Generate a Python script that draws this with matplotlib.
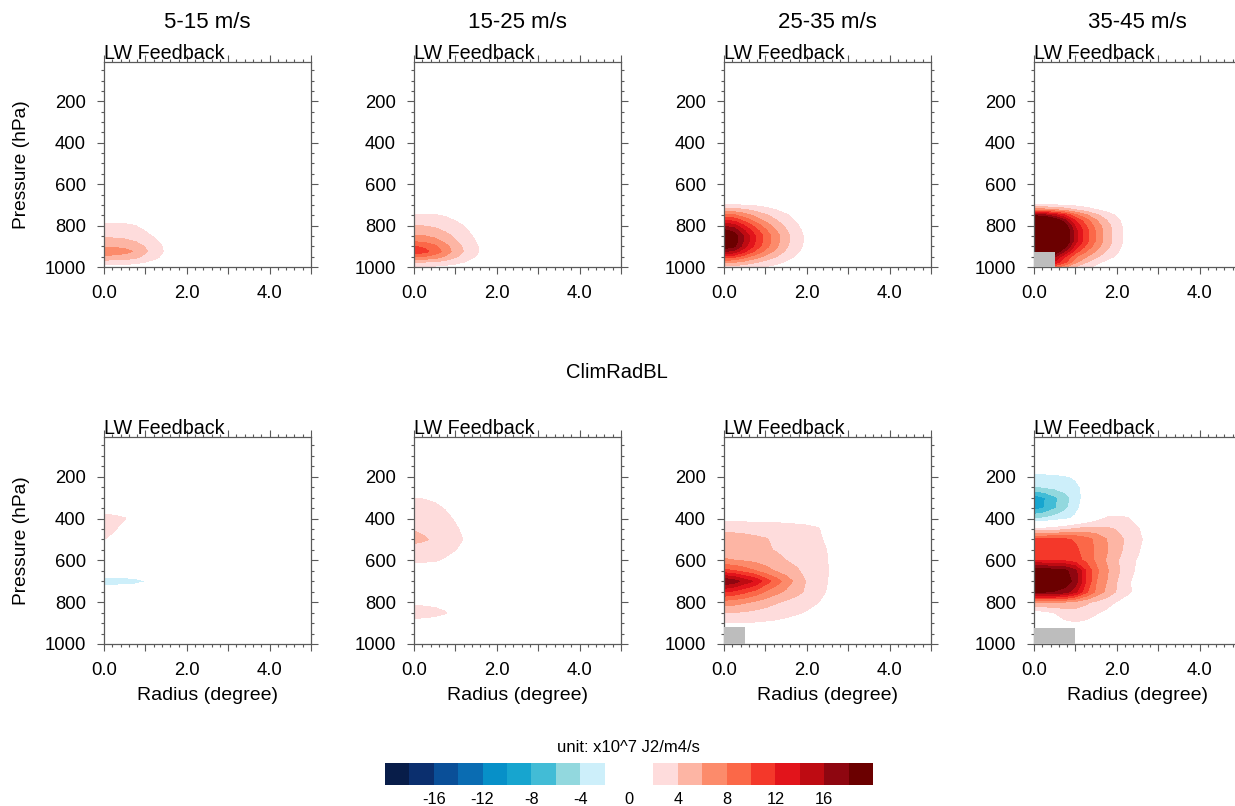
import numpy as np
import matplotlib
matplotlib.use("Agg")
import matplotlib.pyplot as plt
from matplotlib.colors import ListedColormap, BoundaryNorm
from matplotlib.cm import ScalarMappable
from matplotlib.ticker import FixedLocator, MultipleLocator, FuncFormatter

plt.rcParams['font.family'] = ['Liberation Sans', 'DejaVu Sans']
plt.rcParams['axes.unicode_minus'] = False

# ---------------- data ----------------
wind_bins = ['5-15 m/s', '15-25 m/s', '25-35 m/s', '35-45 m/s']
row_titles = ['', 'ClimRadBL']
panel_label = 'LW Feedback'
unit_label = 'unit: x10^7 J2/m4/s'

radius = [0.0, 0.25, 0.5, 0.75, 1.0, 1.25, 1.5, 1.75, 2.0, 2.25, 2.5, 2.75, 3.0]
pressure_top = [700, 725, 750, 775, 800, 825, 850, 875, 900, 925, 950, 975, 1000]
pressure_bottom = [150, 200, 250, 300, 350, 400, 450, 500, 550, 600, 650, 700,
                   750, 800, 850, 900, 950, 1000]

# rows follow the pressure list, columns follow the radius list (missing tail = 0)
top_v05_15 = [
    [0],
    [0],
    [0.5, 0.5, 0.4, 0.3, 0.2, 0],
    [1.5, 1.5, 1.4, 1.2, 0.8, 0.4, 0],
    [2.4, 2.4, 2.3, 2.0, 1.4, 0.8, 0.3, 0],
    [3.0, 3.0, 2.9, 2.6, 1.9, 1.3, 0.6, 0],
    [3.6, 3.6, 3.5, 3.1, 2.4, 1.7, 0.9, 0.2, 0],
    [4.6, 4.5, 4.3, 3.9, 3.0, 2.2, 1.2, 0.4, 0],
    [5.8, 5.7, 5.4, 4.9, 3.8, 2.7, 1.5, 0.5, 0],
    [7.0, 6.8, 6.5, 5.8, 4.2, 3.0, 1.6, 0.6, 0],
    [5.6, 5.5, 5.2, 4.6, 3.4, 2.4, 1.2, 0.4, 0],
    [3.0, 3.0, 2.9, 2.6, 2.0, 1.4, 0.7, 0.2, 0],
    [1.0, 1.0, 0.9, 0.8, 0.6, 0.4, 0.2, 0],
]
top_v15_25 = [
    [0],
    [1.0, 1.0, 0.9, 0.7, 0.5, 0.3, 0.1, 0],
    [2.2, 2.2, 2.1, 1.8, 1.3, 0.8, 0.4, 0],
    [3.0, 3.0, 2.9, 2.5, 1.9, 1.3, 0.7, 0.2, 0],
    [4.0, 3.9, 3.7, 3.2, 2.5, 1.8, 1.0, 0.4, 0],
    [4.8, 4.7, 4.4, 3.8, 3.0, 2.2, 1.3, 0.5, 0],
    [6.2, 6.0, 5.5, 4.6, 3.6, 2.6, 1.6, 0.7, 0],
    [7.6, 7.3, 6.6, 5.4, 4.1, 3.0, 1.9, 0.8, 0],
    [10.0, 9.5, 8.4, 6.6, 4.8, 3.4, 2.2, 1.0, 0],
    [11.2, 10.6, 9.2, 7.2, 5.1, 3.6, 2.3, 1.0, 0],
    [8.0, 7.7, 7.0, 5.7, 4.2, 3.0, 1.9, 0.8, 0],
    [4.0, 4.0, 3.8, 3.3, 2.6, 1.9, 1.1, 0.4, 0],
    [1.6, 1.6, 1.5, 1.3, 1.0, 0.7, 0.4, 0.1, 0],
]
top_v25_35 = [
    [1.9, 1.9, 1.8, 1.6, 1.3, 1.0, 0.6, 0.3, 0],
    [5.0, 4.8, 4.2, 3.4, 2.7, 2.0, 1.3, 0.7, 0.2, 0],
    [8.5, 8.1, 6.8, 5.4, 4.2, 3.2, 2.2, 1.3, 0.5, 0],
    [12.0, 11.3, 9.2, 7.2, 5.5, 4.1, 2.8, 1.7, 0.8, 0.1, 0],
    [15.5, 14.6, 11.8, 9.2, 7.0, 5.2, 3.5, 2.2, 1.1, 0.2, 0],
    [18.5, 17.3, 14.0, 10.9, 8.3, 6.1, 4.1, 2.6, 1.3, 0.3, 0],
    [20.5, 19.2, 15.4, 12.0, 9.2, 6.8, 4.5, 2.9, 1.5, 0.4, 0],
    [20.5, 19.2, 15.4, 12.0, 9.2, 6.8, 4.5, 2.9, 1.5, 0.4, 0],
    [19.5, 18.2, 14.6, 11.4, 8.7, 6.4, 4.2, 2.7, 1.4, 0.3, 0],
    [16.0, 15.0, 12.2, 9.5, 7.3, 5.4, 3.6, 2.3, 1.1, 0.2, 0],
    [11.0, 10.4, 8.6, 6.9, 5.3, 4.0, 2.7, 1.7, 0.8, 0.1, 0],
    [6.5, 6.2, 5.3, 4.3, 3.4, 2.6, 1.8, 1.1, 0.5, 0],
    [3.0, 2.9, 2.6, 2.2, 1.8, 1.4, 1.0, 0.6, 0.2, 0],
]
top_v35_45 = [
    [1.9, 1.9, 1.8, 1.6, 1.3, 1.0, 0.7, 0.4, 0.2, 0],
    [7.0, 6.8, 6.2, 5.2, 4.0, 3.0, 2.1, 1.4, 0.8, 0.3, 0],
    [17.0, 16.2, 14.4, 11.8, 8.5, 6.3, 4.4, 2.9, 1.7, 0.6, 0],
    [24.0, 22.6, 20.0, 16.3, 11.7, 8.7, 6.1, 4.0, 2.4, 0.9, 0],
    [28.0, 26.2, 23.3, 19.1, 13.6, 10.1, 7.1, 4.7, 2.8, 1.1, 0],
    [30.0, 28.0, 25.0, 20.5, 14.5, 10.8, 7.6, 5.0, 3.0, 1.2, 0],
    [30.0, 28.0, 25.0, 20.5, 14.5, 10.8, 7.6, 5.0, 3.0, 1.2, 0],
    [30.0, 28.0, 25.0, 20.5, 14.5, 10.8, 7.6, 5.0, 3.0, 1.2, 0],
    [28.0, 26.0, 23.0, 18.5, 13.0, 9.6, 6.8, 4.5, 2.7, 1.0, 0],
    [25.0, 23.0, 20.0, 15.5, 10.8, 8.0, 5.7, 3.8, 2.2, 0.8, 0],
    [20.0, 18.5, 16.0, 12.0, 8.2, 6.1, 4.3, 2.8, 1.6, 0.5, 0],
    [16.0, 15.0, 13.5, 10.5, 6.5, 4.2, 2.6, 1.5, 0.7, 0.2, 0],
    [10.0, 9.5, 8.5, 6.0, 3.8, 2.5, 1.5, 0.8, 0.3, 0],
]

bot_v05_15 = [
    [0], [0], [0], [0],
    [0.5, 0.5, 0.4, 0.2, 0],
    [3.0, 2.6, 2.1, 0.8, 0],
    [2.6, 2.2, 0.8, 0.2, 0],
    [2.0, 1.2, 0.3, 0],
    [0.8, 0.3, 0],
    [0], [0],
    [-3.4, -3.3, -3.1, -2.8, -2.15, -0.5, 0],
    [0], [0], [0], [0], [0], [0],
]
bot_v15_25 = [
    [0], [0], [0],
    [1.95, 1.9, 1.7, 1.2, 0.5, 0],
    [2.6, 2.5, 2.3, 1.9, 1.2, 0],
    [3.0, 2.9, 2.7, 2.4, 1.8, 1.0, 0],
    [3.85, 3.6, 3.2, 2.7, 2.2, 1.5, 0],
    [4.6, 4.2, 3.6, 3.0, 2.5, 1.8, 0],
    [3.0, 2.9, 2.7, 2.4, 2.0, 1.4, 0],
    [2.3, 2.2, 2.1, 1.8, 1.0, 0],
    [1.0, 0.9, 0.8, 0.5, 0],
    [0], [0],
    [1.7, 1.6, 1.5, 1.2, 0.6, 0],
    [2.7, 2.6, 2.45, 2.1, 1.3, 0],
    [1.4, 1.3, 1.2, 1.0, 0.5, 0],
    [0], [0],
]
bot_v25_35 = [
    [0], [0], [0], [0], [0],
    [1.2, 1.2, 1.2, 1.2, 1.2, 1.2, 1.1, 1.0, 0.9, 0.6, 0.2, 0],
    [3.6, 3.6, 3.5, 3.4, 3.3, 3.1, 3.0, 2.8, 2.6, 2.2, 1.2, 0],
    [4.7, 4.6, 4.5, 4.3, 4.1, 3.7, 3.3, 3.0, 2.8, 2.5, 1.5, 0.2, 0],
    [5.0, 4.9, 4.8, 4.6, 4.2, 3.9, 3.6, 3.3, 3.0, 2.8, 1.9, 0.4, 0],
    [6.2, 6.0, 5.7, 5.4, 5.0, 4.5, 4.0, 3.6, 3.2, 2.9, 2.0, 0.5, 0],
    [10.5, 10.0, 9.0, 8.0, 6.8, 5.8, 5.0, 4.2, 3.5, 3.0, 2.1, 0.6, 0],
    [17.8, 16.8, 15.0, 13.6, 11.0, 9.0, 7.0, 5.3, 3.8, 2.9, 2.0, 0.5, 0],
    [12.0, 11.4, 10.4, 9.2, 7.8, 6.6, 5.6, 4.6, 3.6, 2.8, 1.8, 0.4, 0],
    [7.0, 6.7, 6.2, 5.6, 4.9, 4.2, 3.6, 3.1, 2.6, 2.1, 1.2, 0.2, 0],
    [4.0, 3.9, 3.7, 3.4, 3.1, 2.8, 2.5, 2.2, 1.8, 1.2, 0.5, 0],
    [1.8, 1.8, 1.8, 1.8, 1.7, 1.6, 1.4, 1.1, 0.7, 0.3, 0],
    [0], [0],
]
bot_v35_45 = [
    [-0.8, -0.8, -0.7, -0.6, -0.4, 0],
    [-2.6, -2.5, -2.4, -2.2, -1.8, -0.9, 0],
    [-4.2, -4.0, -3.6, -3.1, -2.5, -1.5, 0],
    [-9.5, -8.2, -6.5, -4.9, -3.2, -1.2, 0],
    [-9.0, -8.0, -6.3, -4.5, -2.8, -0.8, 0, 0.5, 0.5, 0.3, 0],
    [-4.2, -3.8, -3.2, -2.6, -1.6, -0.4, 1.0, 2.2, 2.4, 2.2, 1.0, 0],
    [2.3, 2.4, 2.8, 3.4, 4.2, 4.6, 4.6, 4.3, 3.8, 3.0, 2.2, 0.8, 0],
    [10.5, 10.5, 10.4, 10.2, 9.8, 8.8, 7.5, 6.0, 4.8, 3.6, 2.6, 1.2, 0],
    [11.0, 11.0, 10.9, 10.7, 10.3, 9.2, 7.6, 6.2, 4.6, 3.4, 2.3, 0.8, 0],
    [12.0, 12.0, 11.8, 11.5, 10.8, 9.5, 7.5, 5.8, 4.2, 2.8, 1.8, 0.5, 0],
    [19.5, 19.3, 19.0, 18.5, 16.5, 12.0, 8.5, 6.3, 4.4, 2.8, 1.6, 0.5, 0],
    [20.5, 20.3, 20.0, 19.3, 17.0, 12.0, 8.0, 6.0, 4.0, 2.4, 1.2, 0.3, 0],
    [18.3, 18.1, 17.8, 17.0, 14.5, 10.5, 7.5, 5.5, 3.8, 2.4, 1.3, 0.3, 0],
    [6.0, 6.0, 5.9, 5.6, 5.0, 4.3, 3.5, 2.8, 1.8, 1.0, 0.3, 0],
    [1.0, 1.2, 2.0, 2.8, 3.2, 3.0, 2.2, 1.5, 0.8, 0.2, 0],
    [0, 0.3, 1.0, 1.6, 1.8, 1.5, 0.9, 0.3, 0],
    [0], [0],
]

# below-ground (missing) area per panel: outer radius and top pressure
missing_radius = [[0.0, 0.0, 0.0, 0.5], [0.0, 0.0, 0.5, 1.0]]
missing_top = [[1000, 1000, 1000, 928], [1000, 1000, 920, 924]]

contour_levels = [-18, -16, -14, -12, -10, -8, -6, -4, -2, 0,
                  2, 4, 6, 8, 10, 12, 14, 16, 18]
level_colors = ['#081d49', '#0b2f6e', '#0a4f98', '#0a6cb2', '#0790c8',
                '#17a5cf', '#42bcd6', '#92d8de', '#cdeffa',
                '#ffffff', '#ffffff',
                '#fedcdc', '#fdb5a4', '#fc8b6b', '#fb6848', '#f4382a',
                '#e2141b', '#be0b12', '#8e0610', '#6b0000']
cbar_ticks = [-16, -12, -8, -4, 0, 4, 8, 12, 16]
missing_color = '#bdbdbd'

fields = [[top_v05_15, top_v15_25, top_v25_35, top_v35_45],
          [bot_v05_15, bot_v15_25, bot_v25_35, bot_v35_45]]
pressures = [pressure_top, pressure_bottom]


def to_grid(rows):
    n = len(radius)
    return np.array([list(r) + [0.0] * (n - len(r)) for r in rows], dtype=float)


# ---------------- figure ----------------
W, H = 1235, 806
fig = plt.figure(figsize=(W / 100, H / 100), dpi=100)

col_left = [104, 414, 724, 1034]
ax_w = 207
row_top = [62, 437]
row_h = [205, 207]
frame_col = '#5a5a5a'

all_levels = [-1000] + contour_levels + [1000]

for i in range(2):
    for j in range(4):
        left = col_left[j] / W
        bottom = (H - row_top[i] - row_h[i]) / H
        ax = fig.add_axes([left, bottom, ax_w / W, row_h[i] / H])
        Z = to_grid(fields[i][j])
        R, P = np.meshgrid(radius, pressures[i])
        cs = ax.contourf(R, P, Z, levels=all_levels, colors=level_colors)
        cs.set_edgecolor('face')
        cs.set_linewidth(0.3)
        if missing_radius[i][j] > 0:
            ax.fill_betweenx([missing_top[i][j], 1000], 0, missing_radius[i][j],
                             color=missing_color, lw=0, zorder=3)
        ax.set_xlim(0, 5)
        ax.set_ylim(1000, 10)
        ax.xaxis.set_major_locator(FixedLocator([0, 1, 2, 3, 4, 5]))
        ax.xaxis.set_major_formatter(FuncFormatter(
            lambda v, pos: f"{v:.1f}" if int(round(v)) % 2 == 0 and v < 5 else ""))
        ax.xaxis.set_minor_locator(MultipleLocator(0.2))
        ax.yaxis.set_major_locator(FixedLocator([200, 400, 600, 800, 1000]))
        ax.yaxis.set_minor_locator(MultipleLocator(50))
        ax.tick_params(which='both', direction='out', top=True, right=True,
                       colors=frame_col, labelcolor='black', width=0.8)
        ax.tick_params(which='major', length=5, labelsize=13.3)
        ax.tick_params(which='minor', length=2.5)
        ax.tick_params(axis='x', which='major', pad=8)
        ax.tick_params(axis='y', which='major', pad=8)
        for s in ax.spines.values():
            s.set_color(frame_col)
            s.set_linewidth(0.9)
        ax.text(0.0, 1.014, panel_label, transform=ax.transAxes, ha='left',
                va='baseline', fontsize=14.2)
        if i == 0:
            ax.text(0.5, 1 + 39 / row_h[i], wind_bins[j], transform=ax.transAxes,
                    ha='center', va='center', fontsize=16)
        if j == 0:
            ax.set_ylabel('Pressure (hPa)', fontsize=13.8)
            ax.yaxis.set_label_coords(-(col_left[0] - 22) / ax_w, 0.5)
            ax.yaxis.label.set_va('center')
        if i == 1:
            ax.set_xlabel('Radius (degree)', fontsize=14)
            ax.xaxis.set_label_coords(0.5, -52 / row_h[i])
            ax.xaxis.label.set_va('center')

fig.text(617 / W, 1 - 372 / H, row_titles[1], ha='center', va='center', fontsize=14.5)

# colorbar
cb_left, cb_right, cb_top, cb_bot = 385, 873, 763, 785
cax = fig.add_axes([cb_left / W, (H - cb_bot) / H, (cb_right - cb_left) / W,
                    (cb_bot - cb_top) / H])
bounds = list(range(-20, 21, 2))
cmap = ListedColormap(level_colors)
norm = BoundaryNorm(bounds, cmap.N)
cb = fig.colorbar(ScalarMappable(norm=norm, cmap=cmap), cax=cax,
                  orientation='horizontal', ticks=cbar_ticks)
cb.outline.set_visible(False)
cb.ax.minorticks_off()
cb.ax.tick_params(which='both', length=0, labelsize=11.8, pad=5)
cb.ax.set_xticklabels([str(t) for t in cbar_ticks])
fig.text(628 / W, 1 - 747 / H, unit_label, ha='center', va='center', fontsize=12)

fig.savefig('out.png', dpi=100)
